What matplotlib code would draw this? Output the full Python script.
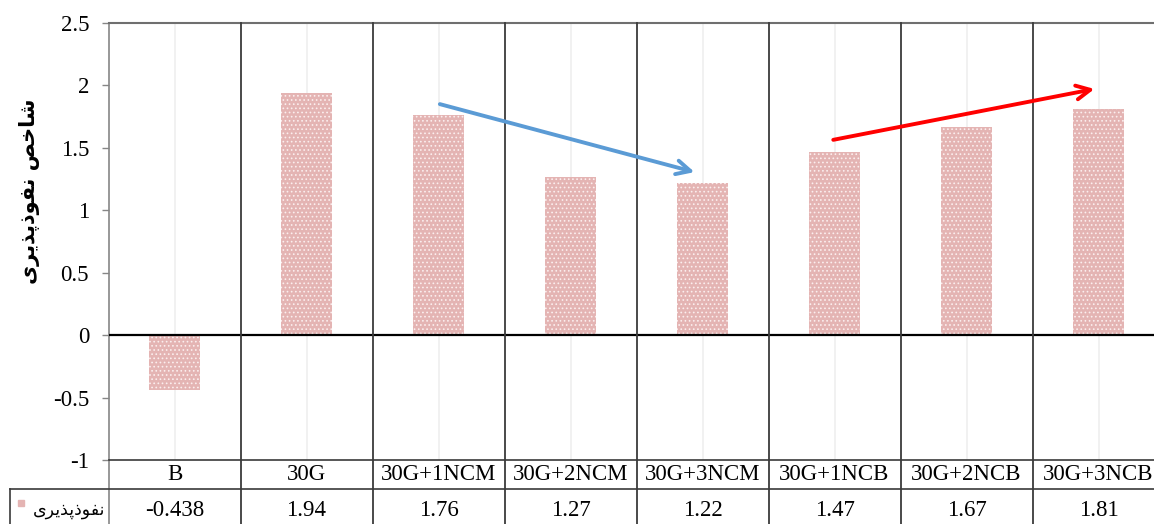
import matplotlib
matplotlib.use('Agg')
import matplotlib.pyplot as plt
from matplotlib.patches import Rectangle
from matplotlib.transforms import blended_transform_factory
import numpy as np

categories = ['B', '30G', '30G+1NCM', '30G+2NCM', '30G+3NCM',
              '30G+1NCB', '30G+2NCB', '30G+3NCB']
permeability = [-0.438, 1.94, 1.76, 1.27, 1.22, 1.47, 1.67, 1.81]
value_labels = ['-0.438', '1.94', '1.76', '1.27', '1.22', '1.47', '1.67', '1.81']
y_ticks = [-1, -0.5, 0, 0.5, 1, 1.5, 2, 2.5]
series_name = 'نفوذپذیری'
y_title = 'شاخص نفوذپذیری'

# presentation forms (isolated, final, initial, medial); None = no left join
FORMS = {
    'ا': ('\ufe8d', '\ufe8e', None, None),
    'خ': ('\ufea5', '\ufea6', '\ufea7', '\ufea8'),
    'ذ': ('\ufeab', '\ufeac', None, None),
    'ر': ('\ufead', '\ufeae', None, None),
    'ش': ('\ufeb5', '\ufeb6', '\ufeb7', '\ufeb8'),
    'ص': ('\ufeb9', '\ufeba', '\ufebb', '\ufebc'),
    'ف': ('\ufed1', '\ufed2', '\ufed3', '\ufed4'),
    'ن': ('\ufee5', '\ufee6', '\ufee7', '\ufee8'),
    'و': ('\ufeed', '\ufeee', None, None),
    'پ': ('\ufb56', '\ufb57', '\ufb58', '\ufb59'),
    'ی': ('\ufbfc', '\ufbfd', '\ufbfe', '\ufbff'),
}


def shape(text):
    out = []
    for i, ch in enumerate(text):
        if ch not in FORMS:
            out.append(ch)
            continue
        prev = text[i - 1] if i > 0 else ''
        nxt = text[i + 1] if i + 1 < len(text) else ''
        iso, fin, ini, med = FORMS[ch]
        j_prev = prev in FORMS and FORMS[prev][2] is not None
        j_next = nxt in FORMS and ini is not None
        if j_prev and j_next:
            out.append(med)
        elif j_prev:
            out.append(fin)
        elif j_next:
            out.append(ini)
        else:
            out.append(iso)
    return ''.join(reversed(out))


plt.rcParams['axes.unicode_minus'] = False
plt.rcParams['font.family'] = ['Liberation Serif', 'DejaVu Sans']
plt.rcParams['hatch.linewidth'] = 0.7

W, H = 1154, 524
fig = plt.figure(figsize=(W / 100, H / 100), dpi=100)
ax = fig.add_axes([108.5 / W, 64 / H, 1056 / W, 437 / H])

x = np.arange(len(categories))
ax.bar(x, permeability, width=0.39, color='#e4b4b3', hatch='....',
       edgecolor='#fbeeee', linewidth=0, zorder=3)

ax.set_xlim(-0.5, 7.5)
ax.set_ylim(-1, 2.5)
ax.set_yticks(y_ticks)
ax.set_yticklabels(['%g' % t for t in y_ticks], fontsize=16.5)
ax.tick_params(axis='y', length=5, width=1, color='#868686', pad=9)
ax.set_xticks(x)
ax.tick_params(axis='x', length=0, labelbottom=False)
ax.grid(axis='x', color='#efefef', lw=1.2, zorder=0)

ax.spines['right'].set_visible(False)
ax.spines['left'].set_color('#868686')
ax.spines['left'].set_linewidth(1.2)
ax.spines['top'].set_color('#6f6f6f')
ax.spines['top'].set_linewidth(1.5)
ax.spines['bottom'].set_color('#3a3a3a')
ax.spines['bottom'].set_linewidth(1.2)
ax.axhline(0, color='black', lw=1.6, zorder=4)

# data table under the plot
tr = blended_transform_factory(ax.transData, ax.transAxes)


def ay(py):
    return (460 - py) / 437


for b in np.arange(0.5, len(categories) - 1, 1):
    ax.plot([b, b], [1, ay(524)], color='#3a3a3a', lw=1.3,
            transform=tr, clip_on=False, zorder=5)
ax.plot([-0.5, -0.5], [0, ay(524)], color='#868686', lw=1.2,
        transform=tr, clip_on=False)
x_left = (10 - 108.5) / 132 - 0.5
ax.plot([x_left, 7.5], [ay(489), ay(489)], color='#3a3a3a',
        lw=1.2, transform=tr, clip_on=False)
ax.plot([x_left] * 2, [ay(489), ay(524)], color='#3a3a3a',
        lw=1.2, transform=tr, clip_on=False)

for xi, cat, lab in zip(x, categories, value_labels):
    ax.text(xi, ay(475), cat, ha='center', va='center', fontsize=16.5,
            transform=tr, clip_on=False)
    ax.text(xi, ay(510), lab, ha='center', va='center', fontsize=16.5,
            transform=tr, clip_on=False)

fig.patches.append(Rectangle((18 / W, (524 - 506) / H), 6 / W, 6 / H,
                             transform=fig.transFigure, color='#e4b4b3'))
fig.text(33 / W, (524 - 510) / H, shape(series_name), ha='left', va='center',
         fontsize=12.5, family='DejaVu Sans')

fig.text(30 / W, (524 - 191) / H, shape(y_title), rotation=90,
         ha='center', va='center', fontsize=15, fontweight='bold',
         family='DejaVu Sans')

# trend arrows
head = '->,head_length=1.0,head_width=0.5'
ax.annotate('', xy=(3.96, 1.30), xytext=(1.99, 1.856),
            arrowprops=dict(arrowstyle=head, color='#5b9bd5', lw=2.8),
            zorder=6)
ax.annotate('', xy=(6.99, 1.976), xytext=(4.97, 1.56),
            arrowprops=dict(arrowstyle=head, color='#ff0000', lw=2.8),
            zorder=6)

fig.savefig('out.png', dpi=100)
